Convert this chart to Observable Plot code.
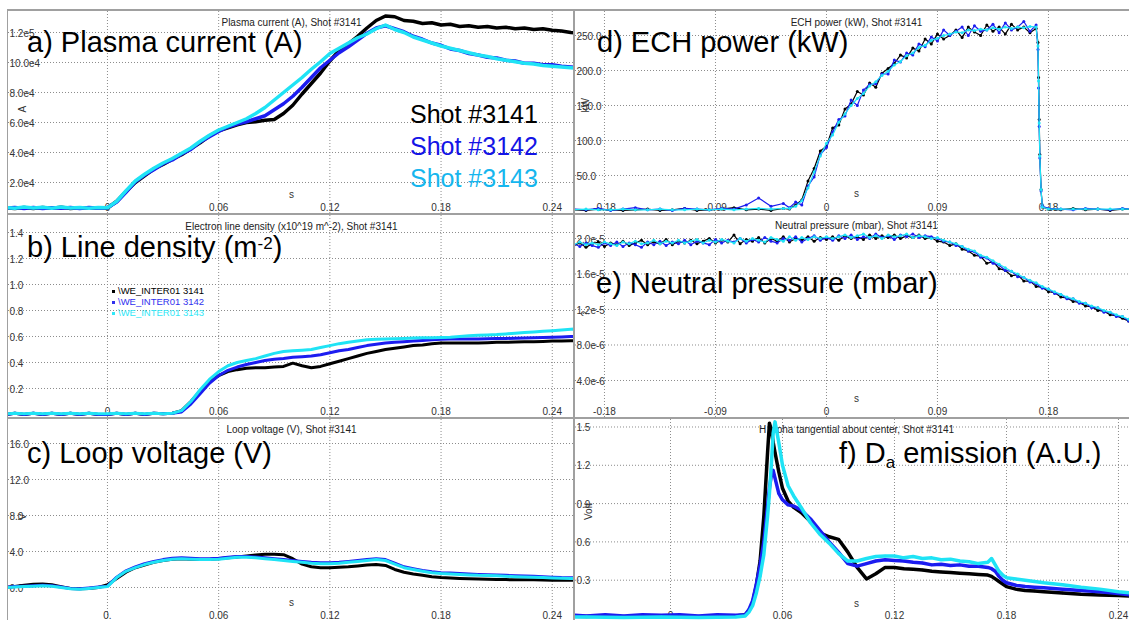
<!DOCTYPE html>
<html>
<head>
<meta charset="utf-8">
<script src="https://cdn.jsdelivr.net/npm/d3@7"></script>
<script src="https://cdn.jsdelivr.net/npm/@observablehq/plot@0.6"></script>
<style>
  html, body { margin: 0; padding: 0; background: #fff; }
  #chart { position: relative; width: 1129px; height: 620px; overflow: hidden;
           font-family: "Liberation Sans", Arial, sans-serif; background: #fff; }
  .panel { position: absolute; }
  .rule { position: absolute; background: #a0a0a0; }
  .big { position: absolute; font-size: 29px; line-height: 29px; color: #000; white-space: nowrap; }
  .shot { position: absolute; font-size: 25px; line-height: 25px; white-space: nowrap; }
  .leg { position: absolute; font-size: 9.5px; line-height: 11px; white-space: nowrap; }
  .legdot { position: absolute; width: 3px; height: 3px; }
</style>
</head>
<body>
<div id="chart"></div>
<script>
// ---------- shots ----------
const shots = ["Shot #3141", "Shot #3142", "Shot #3143"];
const lineColors = ["#000000", "#1c1cf0", "#1fe3f5"];
const shotTextColors = ["#000000", "#1414e6", "#16b6ee"];

// ---------- time bases (s) ----------
const tLeft = [-0.055, -0.05, -0.045, -0.04, -0.035, -0.03, -0.025, -0.02, -0.015, -0.01, -0.005,
  0, 0.005, 0.01, 0.015, 0.02, 0.025, 0.03, 0.035, 0.04, 0.045, 0.05, 0.055, 0.06, 0.065, 0.07,
  0.075, 0.08, 0.085, 0.09, 0.095, 0.1, 0.105, 0.11, 0.115, 0.12, 0.125, 0.13, 0.135, 0.14, 0.145,
  0.15, 0.155, 0.16, 0.165, 0.17, 0.175, 0.18, 0.185, 0.19, 0.195, 0.2, 0.205, 0.21, 0.215, 0.22,
  0.225, 0.23, 0.235, 0.24, 0.245, 0.25, 0.255];

// ---------- a) plasma current (A) ----------
const current3141 = [3200, 2600, 3400, 2700, 3300, 2800, 3500, 2600, 3200, 2900, 3100,
  3000, 7500, 14000, 20000, 24500, 29000, 32000, 35500, 38500, 42500, 46500, 51000, 54500, 56500, 58500,
  60000, 60500, 61500, 62000, 66000, 71500, 79000, 86000, 93000, 101000, 108000, 112500, 117500, 123000, 128000,
  131000, 130500, 128000, 127500, 126000, 126500, 125000, 125500, 124000, 124500, 123500, 124000, 123000, 123500, 122500,
  123000, 122000, 122500, 121500, 121000, 120000, 119500];
const current3142 = [2800, 3300, 2700, 3400, 2600, 3200, 2900, 3400, 2700, 3300, 2800,
  3200, 7000, 13500, 20500, 25000, 28500, 32500, 35000, 39000, 42000, 47000, 50500, 54000, 57000, 59000,
  60500, 62500, 64500, 68500, 72500, 77500, 83500, 90000, 96500, 101500, 106500, 110500, 115000, 119500, 123000,
  124500, 122500, 120500, 117500, 115500, 113000, 111500, 109000, 108000, 106000, 105000, 103500, 103000, 101500, 101000,
  99500, 99500, 98500, 98500, 97500, 97000, 96500];
const current3143 = [3400, 2800, 3600, 3000, 3500, 2900, 3600, 3000, 3400, 2800, 3300,
  3100, 7500, 14500, 21000, 25500, 29500, 33000, 36000, 39500, 43000, 47500, 51500, 55000, 57500, 60000,
  62500, 66000, 70000, 75000, 80000, 85000, 90000, 95500, 100500, 106000, 109500, 113000, 116500, 119000, 122500,
  125000, 122000, 120000, 117000, 115000, 113000, 111000, 109500, 108000, 106500, 105000, 104000, 102500, 101500, 100500,
  99500, 99000, 98000, 97500, 97000, 96500, 96000];

// ---------- b) electron line density (x10^19 m^-2) ----------
const density3141 = [0, 0.01, 0, 0.01, 0, 0.01, 0, 0.01, 0, 0.01, 0,
  0, 0.01, 0, 0.01, 0, 0.01, 0.005, 0.01, 0.03, 0.1, 0.18, 0.25, 0.3, 0.33, 0.345,
  0.355, 0.36, 0.36, 0.365, 0.37, 0.395, 0.375, 0.36, 0.37, 0.39, 0.41, 0.43, 0.45, 0.47, 0.485,
  0.5, 0.51, 0.52, 0.53, 0.535, 0.545, 0.55, 0.55, 0.55, 0.55, 0.55, 0.552, 0.555, 0.555, 0.557,
  0.56, 0.56, 0.562, 0.565, 0.565, 0.567, 0.57];
const density3142 = [0, 0.01, 0, 0.01, 0, 0.01, 0, 0.01, 0, 0.01, 0,
  0, 0.01, 0, 0.01, 0, 0.01, 0.005, 0.01, 0.02, 0.08, 0.16, 0.24, 0.3, 0.34, 0.365,
  0.385, 0.4, 0.415, 0.425, 0.43, 0.44, 0.445, 0.45, 0.46, 0.475, 0.49, 0.5, 0.515, 0.53, 0.54,
  0.55, 0.555, 0.56, 0.565, 0.57, 0.575, 0.578, 0.58, 0.58, 0.58, 0.58, 0.582, 0.584, 0.585, 0.587,
  0.588, 0.59, 0.592, 0.595, 0.597, 0.6, 0.6];
const density3143 = [0.005, 0.01, 0.005, 0.01, 0.005, 0.01, 0.005, 0.01, 0.005, 0.01, 0.005,
  0.005, 0.01, 0.005, 0.01, 0.005, 0.01, 0.005, 0.01, 0.03, 0.1, 0.19, 0.27, 0.33, 0.375, 0.4,
  0.415, 0.43, 0.45, 0.47, 0.485, 0.49, 0.495, 0.5, 0.515, 0.53, 0.545, 0.555, 0.565, 0.575, 0.578,
  0.58, 0.583, 0.585, 0.588, 0.59, 0.59, 0.592, 0.595, 0.6, 0.605, 0.61, 0.612, 0.615, 0.62, 0.625,
  0.63, 0.635, 0.64, 0.645, 0.65, 0.655, 0.66];

// ---------- c) loop voltage (V) ----------
const voltage3141 = [0, 0.1, 0.25, 0.35, 0.4, 0.3, 0.1, -0.1, -0.15, -0.1, 0,
  0.3, 1.0, 1.7, 2.2, 2.5, 2.8, 3.0, 3.15, 3.2, 3.15, 3.1, 3.1, 3.2, 3.3, 3.4,
  3.5, 3.6, 3.7, 3.7, 3.65, 3.2, 2.6, 2.3, 2.2, 2.2, 2.25, 2.3, 2.4, 2.5, 2.55,
  2.45, 2.0, 1.7, 1.5, 1.35, 1.2, 1.1, 1.05, 1.0, 0.97, 0.95, 0.92, 0.9, 0.88, 0.85,
  0.85, 0.85, 0.83, 0.8, 0.8, 0.8, 0.8];
const voltage3142 = [0.05, 0.1, 0.15, 0.2, 0.25, 0.2, 0.05, -0.1, -0.15, -0.05, 0.05,
  0.15, 1.15, 1.85, 2.3, 2.65, 2.9, 3.1, 3.25, 3.3, 3.25, 3.2, 3.2, 3.25, 3.35, 3.45,
  3.45, 3.4, 3.3, 3.2, 3.1, 3.0, 2.9, 2.8, 2.75, 2.75, 2.8, 2.9, 3.0, 3.1, 3.2,
  3.1, 2.7, 2.3, 2.1, 1.9, 1.75, 1.65, 1.6, 1.55, 1.5, 1.45, 1.42, 1.4, 1.35, 1.3,
  1.27, 1.25, 1.2, 1.15, 1.1, 1.08, 1.05];
const voltage3143 = [0, 0.05, 0.1, 0.15, 0.2, 0.15, 0, -0.15, -0.2, -0.1, 0,
  0.1, 1.1, 1.8, 2.2, 2.55, 2.8, 3.0, 3.15, 3.2, 3.15, 3.1, 3.1, 3.15, 3.25, 3.35,
  3.35, 3.3, 3.2, 3.1, 3.0, 2.9, 2.8, 2.7, 2.65, 2.65, 2.7, 2.8, 2.9, 3.0, 3.1,
  3.0, 2.6, 2.2, 2.0, 1.8, 1.65, 1.55, 1.5, 1.45, 1.4, 1.35, 1.33, 1.3, 1.25, 1.2,
  1.17, 1.15, 1.1, 1.05, 1.02, 1.0, 1.0];

// ---------- d) ECH power (kW) ----------
const tECH = [-0.205, -0.195, -0.185, -0.175, -0.165, -0.155, -0.145, -0.135, -0.125, -0.115,
  -0.105, -0.095, -0.085, -0.075, -0.065, -0.055, -0.045, -0.035,
  -0.03, -0.025, -0.02, -0.015, -0.01, -0.005, 0, 0.005, 0.01, 0.015, 0.02, 0.025, 0.03, 0.035,
  0.04, 0.045, 0.05, 0.055, 0.06, 0.065, 0.07, 0.075, 0.08, 0.085, 0.09, 0.095, 0.1, 0.105, 0.11,
  0.115, 0.12, 0.125, 0.13, 0.135, 0.14, 0.145, 0.15, 0.155, 0.16, 0.165, 0.17,
  0.1715, 0.172, 0.1725, 0.173, 0.174, 0.175,
  0.18, 0.19, 0.2, 0.21, 0.22, 0.23, 0.24, 0.25];
const ech3141 = [1, 0, 2, 1, 0, 1, 2, 0, 1, 3, 0, 1, 2, 4, 1, 2, 0, 3,
  2, 8, 15, 42, 60, 85, 92, 118, 122, 145, 152, 170, 165, 182, 176, 196, 203, 210, 222, 218,
  232, 228, 245, 238, 252, 245, 250, 258, 247, 262, 255, 250, 265, 256, 262, 252, 266, 258, 262, 254, 260,
  240, 190, 130, 80, 30, 5,
  2, 1, 3, 1, 2, 0, 2, 1];
const ech3142 = [2, 1, 3, 0, 2, 4, 1, 2, 0, 3, 2, 1, 3, 2, 8, 18, 6, 10,
  4, 12, 8, 35, 48, 80, 90, 112, 130, 135, 158, 150, 172, 180, 181, 195, 195, 215, 212, 225,
  222, 238, 234, 248, 242, 258, 250, 256, 262, 250, 264, 256, 258, 266, 254, 268, 258, 262, 270, 256, 265,
  230, 175, 120, 75, 28, 6,
  3, 2, 1, 3, 2, 1, 3, 2];
const ech3143 = [1, 2, 1, 1, 2, 1, 1, 2, 1, 1, 2, 1, 2, 1, 2, 3, 2, 3,
  3, 6, 14, 32, 55, 78, 96, 108, 126, 138, 150, 160, 167, 178, 184, 193, 199, 208, 213, 221,
  225, 233, 236, 243, 246, 250, 252, 255, 254, 258, 257, 259, 258, 261, 259, 262, 260, 262, 261, 263, 262,
  235, 185, 125, 78, 30, 5,
  2, 2, 2, 2, 2, 2, 2, 2];

// ---------- e) neutral pressure (values in units of 1e-5 mbar) ----------
const pressureUnit = 1e-5;
const tPressure = [-0.205, -0.2, -0.195, -0.19, -0.185, -0.18, -0.175, -0.17, -0.165, -0.16,
  -0.155, -0.15, -0.145, -0.14, -0.135, -0.13, -0.125, -0.12, -0.115, -0.11, -0.105, -0.1,
  -0.095, -0.09, -0.085, -0.08, -0.075, -0.07, -0.065, -0.06, -0.055, -0.05, -0.045, -0.04,
  -0.035, -0.03, -0.025, -0.02, -0.015, -0.01, -0.005, 0, 0.005, 0.01, 0.015, 0.02, 0.025,
  0.03, 0.035, 0.04, 0.045, 0.05, 0.055, 0.06, 0.065, 0.07, 0.075, 0.08, 0.085, 0.09, 0.095,
  0.1, 0.105, 0.11, 0.115, 0.12, 0.125, 0.13, 0.135, 0.14, 0.145, 0.15, 0.155, 0.16, 0.165,
  0.17, 0.175, 0.18, 0.185, 0.19, 0.195, 0.2, 0.205, 0.21, 0.215, 0.22, 0.225, 0.23, 0.235,
  0.24, 0.245];
const pressure3141 = [1.92, 1.95, 1.90, 1.94, 1.96, 1.91, 1.95, 1.93, 1.97, 1.92,
  1.95, 1.98, 1.93, 1.96, 1.94, 1.99, 1.93, 1.97, 1.95, 1.98,
  1.94, 1.97, 2.0, 1.95, 1.98, 1.96, 2.04, 1.94, 1.99, 1.97,
  2.01, 1.95, 2.0, 1.97, 2.02, 1.96, 2.0, 1.98, 2.02, 1.97, 2.01,
  1.99, 2.02, 1.98, 2.03, 2.0, 2.02, 1.99, 2.04, 2.0, 2.03, 2.01, 2.04, 2.0, 2.03, 2.01, 2.04, 2.0, 2.01,
  1.97, 1.96, 1.92, 1.94, 1.88, 1.86, 1.81, 1.80, 1.72, 1.74, 1.66, 1.64, 1.58, 1.59, 1.52, 1.52,
  1.46, 1.45, 1.40, 1.39, 1.34, 1.33, 1.29, 1.28, 1.24, 1.23, 1.19, 1.18, 1.14, 1.13, 1.10, 1.07];
const pressure3142 = [1.94, 1.91, 1.95, 1.92, 1.90, 1.95, 1.92, 1.96, 1.91, 1.95,
  1.93, 1.90, 1.96, 1.93, 1.97, 1.92, 1.96, 1.94, 1.98, 1.93,
  1.97, 1.95, 1.93, 1.99, 1.95, 1.98, 1.96, 2.0, 1.95, 1.99,
  1.96, 2.01, 1.97, 1.95, 2.0, 1.98, 2.02, 1.96, 2.0, 2.03, 1.98,
  2.01, 1.98, 2.03, 2.0, 2.04, 1.99, 2.02, 2.0, 2.05, 2.01, 2.03, 1.99, 2.04, 2.02, 2.05, 2.01, 2.03, 2.02,
  2.0, 1.97, 1.96, 1.92, 1.91, 1.86, 1.85, 1.79, 1.78, 1.72, 1.70, 1.64, 1.63, 1.57, 1.56, 1.51,
  1.49, 1.44, 1.43, 1.38, 1.37, 1.32, 1.32, 1.27, 1.27, 1.22, 1.22, 1.17, 1.17, 1.12, 1.12, 1.07];
const pressure3143 = [1.93, 1.96, 1.93, 1.95, 1.93, 1.96, 1.94, 1.92, 1.96, 1.94,
  1.97, 1.94, 1.95, 1.98, 1.94, 1.97, 1.95, 1.98, 1.95, 1.97,
  1.99, 1.95, 1.98, 1.96, 1.99, 1.97, 1.95, 2.0, 1.97, 2.0,
  1.98, 1.96, 2.01, 1.99, 1.97, 2.02, 1.98, 2.01, 1.99, 2.02, 2.0,
  2.02, 2.0, 2.02, 2.04, 2.01, 2.03, 2.05, 2.01, 2.03, 2.0, 2.04, 2.02, 2.03, 2.05, 2.01, 2.03, 2.02, 2.0,
  2.01, 1.98, 1.96, 1.94, 1.91, 1.88, 1.86, 1.81, 1.79, 1.75, 1.71, 1.67, 1.63, 1.60, 1.56, 1.53,
  1.50, 1.46, 1.43, 1.40, 1.37, 1.34, 1.32, 1.29, 1.27, 1.24, 1.22, 1.19, 1.17, 1.14, 1.12, 1.09];

// ---------- f) D-alpha emission (V) ----------
const tDalpha = [-0.055, -0.045, -0.035, -0.025, -0.015, -0.005, 0.005, 0.015, 0.025, 0.035,
  0.04, 0.042, 0.044, 0.046, 0.048, 0.05, 0.052, 0.053, 0.054, 0.055, 0.056, 0.058, 0.06, 0.063, 0.066,
  0.07, 0.075, 0.08, 0.085, 0.09, 0.095, 0.1, 0.105, 0.11, 0.115, 0.12, 0.125, 0.13, 0.135, 0.14,
  0.145, 0.15, 0.155, 0.16, 0.165, 0.17,
  0.172, 0.174, 0.176, 0.178, 0.18, 0.185, 0.19, 0.195, 0.2, 0.21, 0.22, 0.23, 0.24, 0.25];
const dalpha3141 = [0.02, 0.015, 0.02, 0.01, 0.02, 0.015, 0.02, 0.01, 0.015, 0.02,
  0.03, 0.06, 0.12, 0.26, 0.45, 0.8, 1.3, 1.53, 1.48, 1.38, 1.3, 1.15, 1.02, 0.92, 0.87,
  0.83, 0.76, 0.67, 0.64, 0.62, 0.52, 0.4, 0.31, 0.35, 0.4, 0.4, 0.39, 0.385, 0.38, 0.37,
  0.365, 0.36, 0.355, 0.35, 0.345, 0.34,
  0.33, 0.31, 0.29, 0.27, 0.25, 0.23, 0.22, 0.215, 0.21, 0.2, 0.19, 0.185, 0.18, 0.175];
const dalpha3142 = [0.03, 0.02, 0.03, 0.02, 0.03, 0.025, 0.03, 0.02, 0.03, 0.025,
  0.03, 0.07, 0.14, 0.27, 0.42, 0.6, 0.88, 1.02, 1.12, 1.16, 1.1, 0.98, 0.93, 0.89, 0.88,
  0.85, 0.78, 0.69, 0.6, 0.52, 0.43, 0.41, 0.43, 0.45, 0.46, 0.455, 0.45, 0.44, 0.435, 0.42,
  0.425, 0.415, 0.42, 0.41, 0.41, 0.4,
  0.39, 0.37, 0.33, 0.3, 0.28, 0.26, 0.25, 0.245, 0.24, 0.23, 0.22, 0.21, 0.195, 0.18];
const dalpha3143 = [0.01, 0.012, 0.01, 0.008, 0.01, 0.012, 0.01, 0.008, 0.01, 0.012,
  0.02, 0.05, 0.1, 0.2, 0.33, 0.5, 0.8, 0.98, 1.2, 1.45, 1.54, 1.38, 1.2, 1.04, 0.96,
  0.87, 0.75, 0.66, 0.59, 0.51, 0.45, 0.45, 0.47, 0.485, 0.49, 0.49, 0.475, 0.485, 0.47, 0.475,
  0.46, 0.465, 0.45, 0.445, 0.43, 0.44,
  0.47, 0.42, 0.37, 0.34, 0.32, 0.31, 0.3, 0.29, 0.28, 0.265, 0.245, 0.23, 0.21, 0.195];

// ---------- axis ticks and labels ----------
const ticksLeftX = [0, 0.06, 0.12, 0.18, 0.24];
const labelsABX = ["0", "0.06", "0.12", "0.18", "0.24"];
const labelsCX = ["0.", "0.06", "0.12", "0.18", "0.24"];
const ticksRightX = [-0.18, -0.09, 0, 0.09, 0.18];
const labelsRightX = ["-0.18", "-0.09", "0", "0.09", "0.18"];
const ticksAY = [20000, 40000, 60000, 80000, 100000, 120000];
const labelsAY = ["2.0e4", "4.0e4", "6.0e4", "8.0e4", "10.0e4", "1.2e5"];
const ticksBY = [0.2, 0.4, 0.6, 0.8, 1.0, 1.2, 1.4];
const labelsBY = ["0.2", "0.4", "0.6", "0.8", "1.0", "1.2", "1.4"];
const ticksCY = [0, 4, 8, 12, 16];
const labelsCY = ["0.0", "4.0", "8.0", "12.0", "16.0"];
const ticksDY = [50, 100, 150, 200, 250];
const labelsDY = ["50.0", "100.0", "150.0", "200.0", "250.0"];
const ticksEY = [4e-6, 8e-6, 1.2e-5, 1.6e-5, 2.0e-5];
const labelsEY = ["4.0e-6", "8.0e-6", "1.2e-5", "1.6e-5", "2.0e-5"];
const ticksFY = [0.3, 0.6, 0.9, 1.2, 1.5];
const labelsFY = ["0.3", "0.6", "0.9", "1.2", "1.5"];

// ---------- helpers ----------
function series(times, values, scale = 1) {
  return times.map((t, i) => ({t, v: values[i] == null ? null : values[i] * scale}))
              .filter(d => d.v != null);
}

const chart = document.getElementById("chart");
const GRID = "#8c8c8c";
const TXT = "#333";

function panel(cfg) {
  const marks = [
    Plot.gridX(cfg.xTicks, {stroke: GRID, strokeOpacity: 1, strokeDasharray: "1,2"}),
    Plot.gridY(cfg.yTicks, {stroke: GRID, strokeOpacity: 1, strokeDasharray: "1,2"}),
    Plot.text(cfg.yTicks, {y: d => d, text: (d, i) => cfg.yLabels[i], frameAnchor: "left",
      textAnchor: "start", dx: 1, dy: 1, fill: TXT, fontSize: 10}),
    Plot.text(cfg.xTicks, {x: d => d, text: (d, i) => cfg.xLabels[i], frameAnchor: "bottom",
      lineAnchor: "bottom", dy: cfg.xLabelDy ?? -3, fill: TXT, fontSize: 10}),
    Plot.text([cfg.title], {text: d => d, frameAnchor: "top", lineAnchor: "middle", dy: cfg.titleDy ?? 11,
      fill: "#222", fontSize: 10}),
    cfg.unit ? Plot.text([cfg.unit], {text: d => d, frameAnchor: "left", dx: cfg.unitDx ?? 13, rotate: -90,
      fill: TXT, fontSize: 10}) : null,
    cfg.sDy ? Plot.text(["s"], {text: d => d, frameAnchor: "bottom", lineAnchor: "middle", dy: cfg.sDy,
      fill: TXT, fontSize: 10}) : null
  ];
  cfg.layers.forEach((values, k) => {
    const data = series(cfg.times, values, cfg.scale ?? 1);
    marks.push(Plot.line(data, {x: "t", y: "v", stroke: lineColors[k], strokeWidth: cfg.strokeWidth,
      strokeLinejoin: "round", clip: true}));
    if (cfg.dotR) marks.push(Plot.dot(data, {x: "t", y: "v", r: cfg.dotR, fill: lineColors[k],
      stroke: null, clip: true}));
  });
  const svg = Plot.plot({
    width: cfg.width, height: cfg.height, margin: 0,
    x: {domain: cfg.xDomain, axis: null},
    y: {domain: cfg.yDomain, axis: null},
    style: {background: "transparent", fontFamily: "'Liberation Sans', Arial, sans-serif", overflow: "hidden"},
    marks: marks.filter(Boolean)
  });
  const holder = document.createElement("div");
  holder.className = "panel";
  holder.style.left = cfg.left + "px";
  holder.style.top = cfg.top + "px";
  holder.style.width = cfg.width + "px";
  holder.style.height = cfg.height + "px";
  holder.appendChild(svg);
  chart.appendChild(holder);
}

// ---------- left column ----------
panel({left: 8, top: 11, width: 566, height: 202,
  xDomain: [-0.0534, 0.2520], yDomain: [-667, 134000],
  xTicks: ticksLeftX, xLabels: labelsABX, yTicks: ticksAY, yLabels: labelsAY,
  title: "Plasma current (A), Shot #3141", unit: "A", unitDx: 14, sDy: -19,
  times: tLeft, layers: [current3141, current3142, current3143], strokeWidth: 3.5});

panel({left: 8, top: 215, width: 566, height: 202,
  xDomain: [-0.0534, 0.2520], yDomain: [-0.0231, 1.5308],
  xTicks: ticksLeftX, xLabels: labelsABX, yTicks: ticksBY, yLabels: labelsBY,
  title: "Electron line density (x10^19 m^-2), Shot #3141",
  times: tLeft, layers: [density3141, density3142, density3143], strokeWidth: 3});

panel({left: 8, top: 419, width: 566, height: 201,
  xDomain: [-0.0534, 0.2520], yDomain: [-3.667, 18.667],
  xTicks: ticksLeftX, xLabels: labelsCX, yTicks: ticksCY, yLabels: labelsCY, xLabelDy: -2,
  title: "Loop voltage (V), Shot #3141", titleDy: 10, unit: "V", unitDx: 14, sDy: -18,
  times: tLeft, layers: [voltage3141, voltage3142, voltage3143], strokeWidth: 3});

// ---------- right column ----------
panel({left: 575, top: 11, width: 562, height: 202,
  xDomain: [-0.2035, 0.2522], yDomain: [-4.29, 284.3],
  xTicks: ticksRightX, xLabels: labelsRightX, yTicks: ticksDY, yLabels: labelsDY,
  title: "ECH power (kW), Shot #3141", unit: "kW", unitDx: 10, sDy: -20,
  times: tECH, layers: [ech3141, ech3142, ech3143], strokeWidth: 1.2, dotR: 1.5});

panel({left: 575, top: 215, width: 562, height: 202,
  xDomain: [-0.2035, 0.2522], yDomain: [-1.69e-7, 2.259e-5],
  xTicks: ticksRightX, xLabels: labelsRightX, yTicks: ticksEY, yLabels: labelsEY,
  title: "Neutral pressure (mbar), Shot #3141", titleDy: 10, unit: "?", unitDx: 10, sDy: -19,
  times: tPressure, layers: [pressure3141, pressure3142, pressure3143], scale: pressureUnit,
  strokeWidth: 1.2, dotR: 1.5});

panel({left: 575, top: 419, width: 562, height: 201,
  xDomain: [-0.0509, 0.2502], yDomain: [-0.0157, 1.5587],
  xTicks: ticksLeftX, xLabels: labelsABX, yTicks: ticksFY, yLabels: labelsFY, xLabelDy: -2,
  title: "H alpha tangential about center, Shot #3141", titleDy: 10, unit: "Volt", unitDx: 13, sDy: -17,
  times: tDalpha, layers: [dalpha3141, dalpha3142, dalpha3143], strokeWidth: 3.5, dotR: 1.2});

// ---------- panel frame lines ----------
[[7, 9, 1122, 2], [7, 213, 1122, 2], [7, 417, 1122, 2], [7, 9, 1, 611], [573, 9, 2, 611]]
  .forEach(([l, t, w, h]) => {
    const r = document.createElement("div");
    r.className = "rule";
    Object.assign(r.style, {left: l + "px", top: t + "px", width: w + "px", height: h + "px"});
    chart.appendChild(r);
  });

// ---------- panel captions ----------
const captions = [
  {x: 27, y: 27.5, html: "a) Plasma current (A)"},
  {x: 27, y: 232.5, html: "b) Line density (m<span style=\"font-size:17px;position:relative;top:-8px\">-2</span>)"},
  {x: 27, y: 438.5, html: "c) Loop voltage (V)"},
  {x: 597, y: 27.5, html: "d) ECH power (kW)"},
  {x: 596, y: 268.5, html: "e) Neutral pressure (mbar)"},
  {x: 839, y: 438.5, html: "f) D<span style=\"font-size:17px;position:relative;top:5px\">a</span> emission (A.U.)"}
];
captions.forEach(c => {
  const el = document.createElement("div");
  el.className = "big";
  el.style.left = c.x + "px";
  el.style.top = c.y + "px";
  el.innerHTML = c.html;
  chart.appendChild(el);
});

// ---------- shot legend ----------
shots.forEach((s, i) => {
  const el = document.createElement("div");
  el.className = "shot";
  el.style.left = "410px";
  el.style.top = (102 + 32 * i) + "px";
  el.style.color = shotTextColors[i];
  el.textContent = s;
  chart.appendChild(el);
});

// ---------- signal legend in the density panel ----------
const signalNames = ["\\WE_INTER01 3141", "\\WE_INTER01 3142", "\\WE_INTER01 3143"];
const signalColors = ["#000000", "#3030ee", "#30e8f8"];
signalNames.forEach((s, i) => {
  const cy = 291 + 11 * i;
  const dot = document.createElement("div");
  dot.className = "legdot";
  Object.assign(dot.style, {left: "112px", top: (cy - 1) + "px", background: signalColors[i]});
  chart.appendChild(dot);
  const el = document.createElement("div");
  el.className = "leg";
  Object.assign(el.style, {left: "118px", top: (cy - 6) + "px", color: signalColors[i]});
  el.textContent = s;
  chart.appendChild(el);
});
</script>
</body>
</html>
